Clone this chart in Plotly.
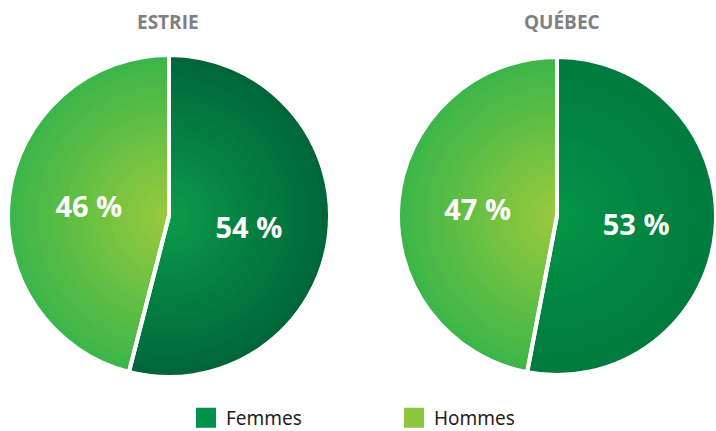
import plotly.graph_objects as go

# ---- data ----
labels = ["Femmes", "Hommes"]
regions = ["ESTRIE", "QUÉBEC"]
estrie_values = [54, 46]
quebec_values = [53, 47]

# ---- style ----
W, H = 716, 431
legend_colors = ["#00924a", "#8dc63f"]
# (center colour, edge colour) for each slice of each pie
grad = {
    "ESTRIE": [("#0a9a4b", "#00653a"), ("#9acb3c", "#3ab54a")],
    "QUÉBEC": [("#039447", "#007a3d"), ("#9acb3c", "#3ab54a")],
}
geom = {"ESTRIE": (169, 216, 161), "QUÉBEC": (557, 216, 159)}
N = 22


def hex2rgb(h):
    h = h.lstrip("#")
    return [int(h[i:i + 2], 16) for i in (0, 2, 4)]


def lerp(c1, c2, t):
    a, b = hex2rgb(c1), hex2rgb(c2)
    return "rgb(%d,%d,%d)" % tuple(round(a[i] + (b[i] - a[i]) * t) for i in range(3))


def dom(cx, cy, R, f):
    r = R * f
    x0 = max(0.0, (cx - r) / W)
    x1 = min(1.0, (cx + r) / W)
    y0 = max(0.0, (H - cy - r) / H)
    y1 = min(1.0, (H - cy + r) / H)
    return dict(x=[x0, x1], y=[y0, y1])


fig = go.Figure()

# legend entries (hidden cartesian traces)
for lab, col in zip(labels, legend_colors):
    fig.add_trace(go.Scatter(
        x=[None], y=[None], mode="markers", name=lab,
        marker=dict(symbol="square", size=16, color=col,
                    line=dict(color=col, width=4)),
        showlegend=True, hoverinfo="skip"))

for reg, vals in zip(regions, [estrie_values, quebec_values]):
    cx, cy, R = geom[reg]
    # gradient rings: full pies of decreasing size, smaller on top
    for k in range(N):
        f = 1 - k / N
        t = (f - 0.5 / N)
        cols = [lerp(c0, c1, t) for (c0, c1) in grad[reg]]
        fig.add_trace(go.Pie(
            labels=labels, values=vals, sort=False, direction="clockwise",
            rotation=0, domain=dom(cx, cy, R, f),
            marker=dict(colors=cols, line=dict(width=0)),
            textinfo="none", hoverinfo="skip", showlegend=False))
    # overlay with white separators and labels
    fig.add_trace(go.Pie(
        labels=labels, values=vals, sort=False, direction="clockwise",
        rotation=0, domain=dom(cx, cy, R, 1.0),
        marker=dict(colors=["rgba(0,0,0,0)", "rgba(0,0,0,0)"],
                    line=dict(color="white", width=4)),
        texttemplate="%{value} %", textposition="inside",
        insidetextorientation="horizontal",
        textfont=dict(family="Open Sans", size=29, color="white", weight="bold"),
        hoverinfo="label+value", showlegend=False, name=reg))

annotations = []
for reg, x in zip(regions, [168, 562]):
    annotations.append(dict(
        text="<b>%s</b>" % reg, x=x / W, y=(H - 22) / H, xref="paper", yref="paper",
        xanchor="center", yanchor="middle", showarrow=False,
        font=dict(family="Open Sans", size=19, color="#7f8083")))

fig.update_layout(
    width=W, height=H, margin=dict(l=0, r=0, t=0, b=0, autoexpand=False),
    paper_bgcolor="white", plot_bgcolor="white",
    xaxis=dict(visible=False), yaxis=dict(visible=False),
    annotations=annotations,
    legend=dict(orientation="h", x=186 / W, xanchor="left", y=13 / H,
                yanchor="middle", entrywidth=163, entrywidthmode="pixels",
                font=dict(family="Noto Sans", size=19, color="#231f20"),
                bgcolor="rgba(0,0,0,0)"),
)

fig.write_html("out.html")
